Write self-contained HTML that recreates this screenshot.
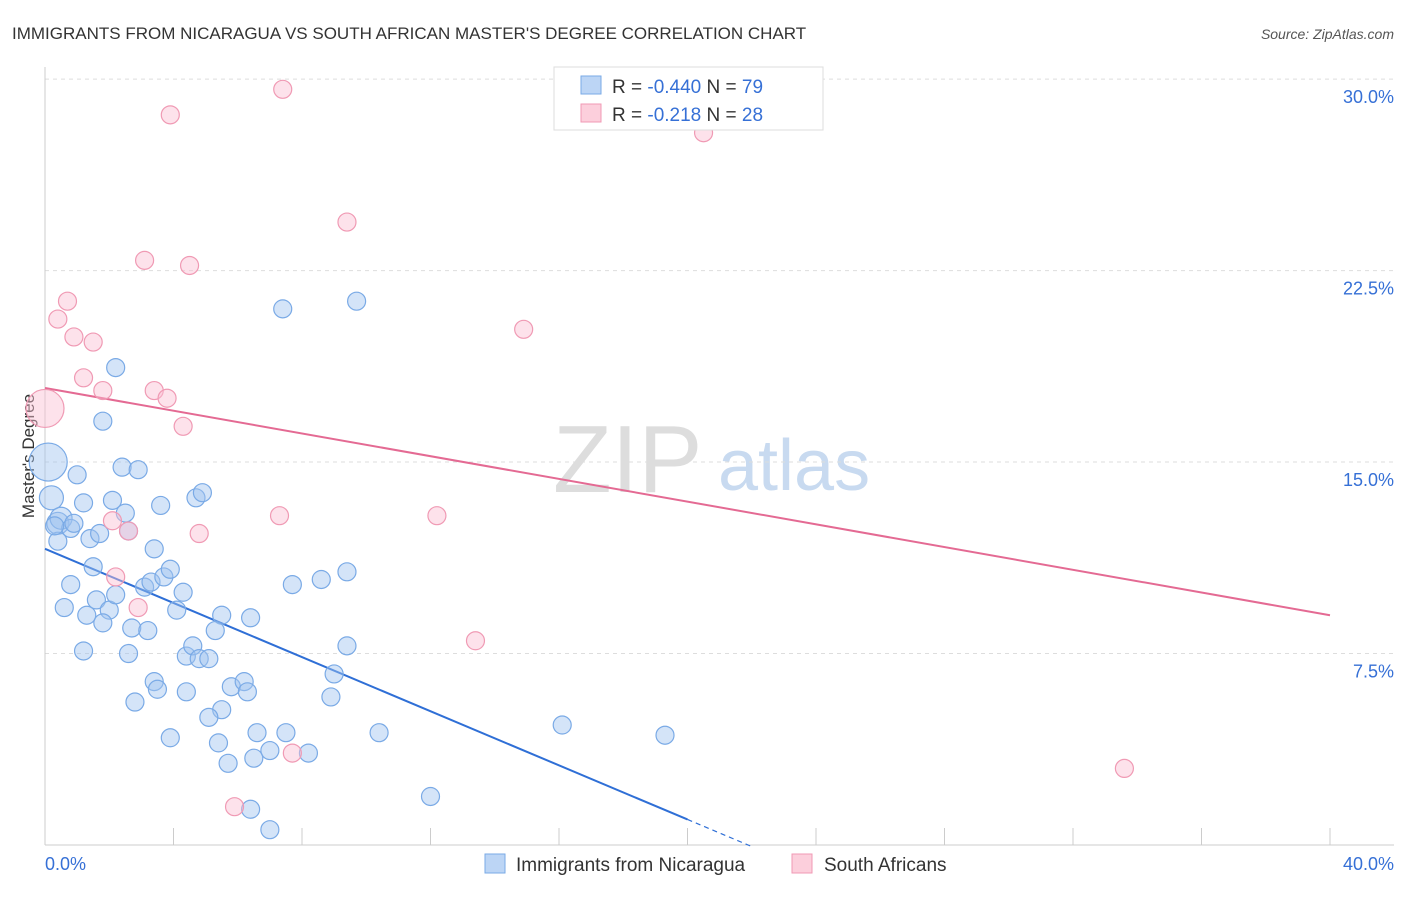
<!DOCTYPE html>
<html><head><meta charset="utf-8"><style>
body{margin:0;background:#fff;font-family:"Liberation Sans",sans-serif}
svg text{font-family:"Liberation Sans",sans-serif}
</style></head><body>
<svg id="chart" width="1406" height="892" xmlns="http://www.w3.org/2000/svg">
<text x="12" y="39" font-size="17" fill="#333">IMMIGRANTS FROM NICARAGUA VS SOUTH AFRICAN MASTER'S DEGREE CORRELATION CHART</text>
<text x="1394" y="39" font-size="14" fill="#555" font-style="italic" text-anchor="end">Source: ZipAtlas.com</text>
<g>
<text x="553" y="492" font-size="96" font-family="Liberation Serif" fill="#ddd">ZIP</text>
<text x="718" y="490" font-size="72" fill="#c8daf0">atlas</text>
</g>
<g id="grid"></g>
<g id="axes"></g>
<text transform="translate(34,456) rotate(-90)" font-size="17" fill="#333" text-anchor="middle">Master's Degree</text>
<g id="trend"></g>
<g id="pts"></g>
<g>
<rect x="554" y="67" width="269" height="63" fill="#fff" stroke="#ddd"/>
<rect x="581" y="76" width="20" height="18" fill="#bcd5f5" stroke="#7aaae6"/>
<rect x="581" y="104" width="20" height="18" fill="#fccfdc" stroke="#f09ab4"/>
<text x="612" y="93" font-size="19" fill="#333">R = <tspan fill="#3670d6">-0.440</tspan>   N = <tspan fill="#3670d6">79</tspan></text>
<text x="612" y="121" font-size="19" fill="#333">R =  <tspan fill="#3670d6"> -0.218</tspan>   N = <tspan fill="#3670d6">28</tspan></text>
</g>
<g>
<rect x="485" y="854" width="20" height="19" fill="#bcd5f5" stroke="#7aaae6"/>
<text x="516" y="871" font-size="19" fill="#333">Immigrants from Nicaragua</text>
<rect x="792" y="854" width="20" height="19" fill="#fccfdc" stroke="#f09ab4"/>
<text x="824" y="871" font-size="19" fill="#333">South Africans</text>
</g>
</svg>
<script>
const yTicks=[7.5,15,22.5,30];
const yTickLabels=["7.5%","15.0%","22.5%","30.0%"];
const xTickLabels=["0.0%","40.0%"];
const blueX=[0.1,0.2,0.4,0.5,0.4,0.8,0.9,1.0,1.2,1.4,1.7,1.8,2.2,2.4,2.9,2.1,2.5,2.6,3.4,3.6,4.7,4.9,1.5,0.8,0.6,1.3,1.6,2.0,2.2,1.8,2.7,3.2,3.1,3.3,3.7,3.9,4.3,4.1,5.5,6.4,5.3,1.2,2.6,4.4,4.6,4.8,5.1,3.4,3.5,4.4,2.8,5.8,6.2,6.3,5.5,5.1,3.9,5.4,6.6,5.7,6.5,7.0,7.5,8.2,6.4,7.0,12.0,7.4,9.7,7.7,8.6,9.4,9.4,9.0,8.9,10.4,16.1,19.3,0.3];
const blueY=[15.0,13.6,12.6,12.8,11.9,12.4,12.6,14.5,13.4,12.0,12.2,16.6,18.7,14.8,14.7,13.5,13.0,12.3,11.6,13.3,13.6,13.8,10.9,10.2,9.3,9.0,9.6,9.2,9.8,8.7,8.5,8.4,10.1,10.3,10.5,10.8,9.9,9.2,9.0,8.9,8.4,7.6,7.5,7.4,7.8,7.3,7.3,6.4,6.1,6.0,5.6,6.2,6.4,6.0,5.3,5.0,4.2,4.0,4.4,3.2,3.4,3.7,4.4,3.6,1.4,0.6,1.9,21.0,21.3,10.2,10.4,10.7,7.8,6.7,5.8,4.4,4.7,4.3,12.5];
const blueR=[19,12,11,11,9,9,9,9,9,9,9,9,9,9,9,9,9,9,9,9,9,9,9,9,9,9,9,9,9,9,9,9,9,9,9,9,9,9,9,9,9,9,9,9,9,9,9,9,9,9,9,9,9,9,9,9,9,9,9,9,9,9,9,9,9,9,9,9,9,9,9,9,9,9,9,9,9,9,9];
const pinkX=[0.0,0.4,0.7,0.9,1.5,1.2,1.8,3.4,3.8,4.3,3.1,4.5,3.9,7.4,9.4,14.9,20.5,7.3,12.2,4.8,2.1,2.6,2.2,2.9,13.4,7.7,5.9,33.6];
const pinkY=[17.1,20.6,21.3,19.9,19.7,18.3,17.8,17.8,17.5,16.4,22.9,22.7,28.6,29.6,24.4,20.2,27.9,12.9,12.9,12.2,12.7,12.3,10.5,9.3,8.0,3.6,1.5,3.0];
const blueTrend=[11.6,1.0], blueTrendEnd=[0,20], blueDashEnd=22;
const pinkTrend=[17.9,9.0];
const X=v=>45+v*32.125, Y=v=>845-v*25.53;
const NS="http://www.w3.org/2000/svg";
function mk(parent,tag,attrs){const e=document.createElementNS(NS,tag);for(const k in attrs)e.setAttribute(k,attrs[k]);document.getElementById(parent).appendChild(e);return e;}
yTicks.forEach((t,i)=>{
 const g=mk('grid','line',{x1:45,x2:1394,y1:Y(t),y2:Y(t),stroke:'#ddd','stroke-dasharray':'4 4'});
 
 
 const l=mk('axes','text',{x:1394,y:Y(t)+24,'font-size':18,fill:'#3670d6','text-anchor':'end'});
 l.textContent=yTickLabels[i];
 
 
});
const ax=mk('axes','line',{x1:45,x2:1394,y1:845,y2:845,stroke:'#ccc'});


const ay=mk('axes','line',{x1:45,x2:45,y1:67,y2:845,stroke:'#ccc'});


for(let i=0;i<=10;i++){const t=mk('axes','line',{x1:X(i*4),x2:X(i*4),y1:828,y2:845,stroke:'#ccc'});
 
 }
[[0,'start',45],[40,'end',1394]].forEach((d,i)=>{const l=mk('axes','text',{x:d[2],y:870,'font-size':18,fill:'#3670d6','text-anchor':d[1]});
 l.textContent=xTickLabels[i];
 
 });
blueX.forEach((x,i)=>{const c=mk('pts','circle',{cx:X(x),cy:Y(blueY[i]),r:blueR[i],fill:'rgba(160,195,240,0.45)',stroke:'#7aaae6','stroke-width':1.2});
 
 });
pinkX.forEach((x,i)=>{const c=mk('pts','circle',{cx:X(x),cy:Y(pinkY[i]),r:i==0?19:9,fill:'rgba(250,190,210,0.45)',stroke:'#f09ab4','stroke-width':1.2});
 
 });
const bs=(blueTrend[1]-blueTrend[0])/(blueTrendEnd[1]);
const b1=mk('trend','line',{x1:X(0),y1:Y(blueTrend[0]),x2:X(20),y2:Y(blueTrend[1]),stroke:'#2f6fd6','stroke-width':2});


const b2=mk('trend','line',{x1:X(20),y1:Y(blueTrend[1]),x2:X(blueDashEnd),y2:Y(blueTrend[0]+bs*blueDashEnd),stroke:'#2f6fd6','stroke-width':1.2,'stroke-dasharray':'5 4'});


const p1=mk('trend','line',{x1:X(0),y1:Y(pinkTrend[0]),x2:X(40),y2:Y(pinkTrend[1]),stroke:'#e46a93','stroke-width':2});


</script>
</body></html>
